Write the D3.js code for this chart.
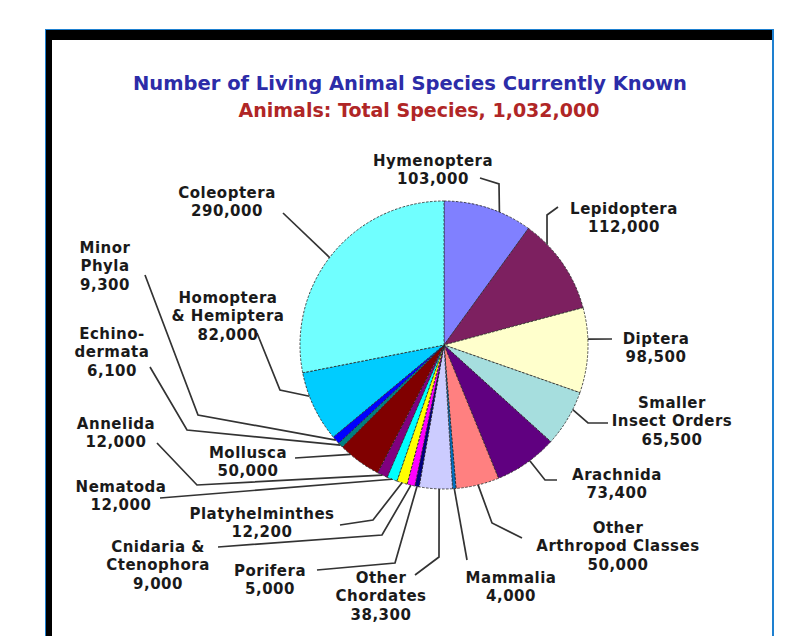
<!DOCTYPE html>
<meta charset="utf-8">
<script src="https://d3js.org/d3.v7.min.js"></script>
<style>
  body { margin: 0; background: #fff; }
  text { font-family: "DejaVu Sans", Verdana, sans-serif; font-weight: bold; }
</style>
<div id="chart"></div>
<script>
// data (clockwise from 12 o'clock)
var categories = ["Hymenoptera", "Lepidoptera", "Diptera", "Smaller Insect Orders", "Arachnida",
  "Other Arthropod Classes", "Mammalia", "Other Chordates", "Porifera", "Cnidaria & Ctenophora",
  "Platyhelminthes", "Nematoda", "Annelida", "Mollusca", "Echinodermata", "Minor Phyla",
  "Homoptera & Hemiptera", "Coleoptera"];
var species = [103000, 112000, 98500, 65500, 73400, 50000, 4000, 38300, 5000, 9000,
  12200, 12000, 12000, 50000, 6100, 9300, 82000, 290000];
var nameLines = [["Hymenoptera"], ["Lepidoptera"], ["Diptera"], ["Smaller", "Insect Orders"], ["Arachnida"],
  ["Other", "Arthropod Classes"], ["Mammalia"], ["Other", "Chordates"], ["Porifera"], ["Cnidaria &", "Ctenophora"],
  ["Platyhelminthes"], ["Nematoda"], ["Annelida"], ["Mollusca"], ["Echino-", "dermata"], ["Minor", "Phyla"],
  ["Homoptera", "& Hemiptera"], ["Coleoptera"]];
var sliceColors = ["#8080ff", "#7d2060", "#ffffcc", "#a6dede", "#600080", "#ff8080", "#0070c0", "#ccccff",
  "#000080", "#ff00ff", "#ffff00", "#00ffff", "#800080", "#800000", "#008080", "#0000ff", "#00ccff", "#70ffff"];

// label placement (label centre, first line y, leader bends); t = where on the slice arc the leader starts
var labelLayout = [
  {x: 433, y: 160, t: 0.63, bend: [[499, 184], [480, 178]]},
  {x: 624, y: 208, t: 0.25, bend: [[547, 215], [558, 207]]},
  {x: 656, y: 338, t: 0.37, bend: [[612, 339]]},
  {x: 672, y: 402, t: 0.32, bend: [[588, 423], [608, 423]]},
  {x: 617, y: 474, t: 0.44, bend: [[545, 480], [557, 480]]},
  {x: 618, y: 527, t: 0.49, bend: [[492, 523], [522, 538]]},
  {x: 511, y: 577, t: 0.5, bend: [[467, 560]]},
  {x: 381, y: 577, t: 0.4, bend: [[439, 557], [415, 575]]},
  {x: 270, y: 570, t: 0.5, bend: [[395, 563], [317, 570]]},
  {x: 158, y: 546, t: 0.5, bend: [[382, 535], [218, 547]]},
  {x: 262, y: 513, t: 0.5, bend: [[373, 520], [340, 525]]},
  {x: 121, y: 486, t: 0.5, bend: [[160, 498]]},
  {x: 116, y: 423, t: 0.5, bend: [[197, 485], [157, 443]]},
  {x: 248, y: 452, t: 0.75, bend: [[295, 458]]},
  {x: 112, y: 333, t: 0.5, bend: [[187, 430], [150, 367]]},
  {x: 105, y: 247, t: 0.5, bend: [[198, 415], [145, 275]]},
  {x: 228, y: 297, t: 0.66, bend: [[280, 390], [257, 333]]},
  {x: 227, y: 192, t: 0.48, bend: [[283, 213]]}
];

var W = 797, H = 636;
var cx = 444, cy = 345, r = 144;
var lineH = 18.5;

var svg = d3.select("#chart").append("svg")
  .attr("width", W).attr("height", H);

// frame
svg.append("rect").attr("x", 45).attr("y", 29).attr("width", 729).attr("height", H).attr("fill", "#1e80d0");
svg.append("rect").attr("x", 46).attr("y", 30).attr("width", 726).attr("height", H).attr("fill", "#000");
svg.append("rect").attr("x", 52).attr("y", 40).attr("width", 720).attr("height", H).attr("fill", "#fff");

// titles
svg.append("text").attr("x", 410).attr("y", 90).attr("text-anchor", "middle")
  .style("font-size", "19.5px").attr("fill", "#2c2ca8")
  .text("Number of Living Animal Species Currently Known");
svg.append("text").attr("x", 419).attr("y", 117).attr("text-anchor", "middle")
  .style("font-size", "19px").attr("fill", "#b02626")
  .text("Animals: Total Species, 1,032,000");

var pie = d3.pie().sort(null).value(function(d) { return d; });
var arcs = pie(species);
var arc = d3.arc().innerRadius(0).outerRadius(r);
var color = d3.scaleOrdinal().domain(categories).range(sliceColors);
var fmt = d3.format(",");

var g = svg.append("g").attr("transform", "translate(" + cx + "," + cy + ")");
g.selectAll("path.slice")
  .data(arcs)
  .enter().append("path")
  .attr("class", "slice")
  .attr("d", arc)
  .attr("fill", function(d, i) { return color(categories[i]); })
  .attr("stroke", "#222")
  .attr("stroke-width", 0.8)
  .attr("stroke-dasharray", "2.5,1.5");

// leader lines
var line = d3.line();
svg.selectAll("path.leader")
  .data(arcs)
  .enter().append("path")
  .attr("class", "leader")
  .attr("d", function(d, i) {
    var L = labelLayout[i];
    var a = d.startAngle + L.t * (d.endAngle - d.startAngle);
    var p0 = [cx + r * Math.sin(a), cy - r * Math.cos(a)];
    return line([p0].concat(L.bend));
  })
  .attr("fill", "none")
  .attr("stroke", "#333")
  .attr("stroke-width", 1.7);

// labels
var labels = svg.selectAll("text.lab")
  .data(arcs)
  .enter().append("text")
  .attr("class", "lab")
  .attr("text-anchor", "middle")
  .attr("fill", "#1a1a1a")
  .style("font-size", "15px")
  .style("letter-spacing", "0.5px");
labels.each(function(d, i) {
  var L = labelLayout[i];
  var lines = nameLines[i].concat([fmt(species[i])]);
  var t = d3.select(this);
  lines.forEach(function(s, k) {
    t.append("tspan").attr("x", L.x).attr("y", L.y + 5.5 + k * lineH).text(s);
  });
});
</script>
